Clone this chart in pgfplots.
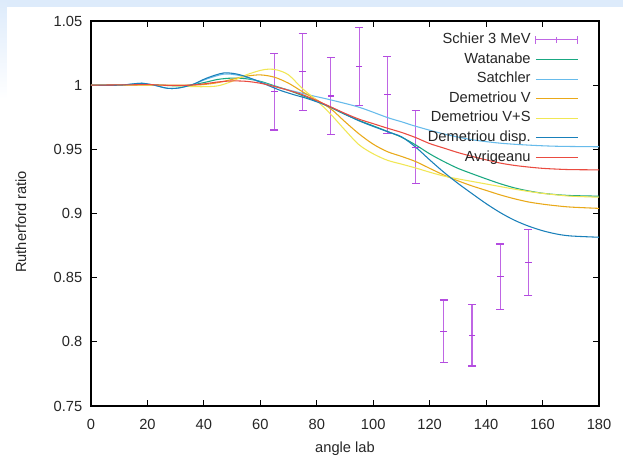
\documentclass[border=0pt]{standalone}
\usepackage{fontspec}
\setmainfont{Liberation Sans}
\usepackage{pgfplots}
\pgfplotsset{compat=1.18}

% gnuplot default line colours
\definecolor{gpviolet}{RGB}{148,0,211}
\definecolor{gpgreen}{RGB}{0,158,115}
\definecolor{gpsky}{RGB}{86,180,233}
\definecolor{gporange}{RGB}{230,159,0}
\definecolor{gpyellow}{RGB}{240,228,66}
\definecolor{gpblue}{RGB}{0,114,178}
\definecolor{gpred}{RGB}{229,30,16}
\definecolor{framebg}{RGB}{221,235,251}

% measured Rutherford ratios: angle, ratio, error
\pgfplotstableread{
a    r      e
65   0.9949 0.0299
75   1.0105 0.0300
85   0.9916 0.0300
95   1.0146 0.0305
105  0.9926 0.0300
115  0.9516 0.0285
125  0.8083 0.0243
135  0.8051 0.0240
145  0.8508 0.0255
155  0.8620 0.0258
}\schier

\pgfplotstableread{
a   r
0   1.0000
15  1.0003
20  1.0005
25  1.0000
30  0.9995
35  1.0000
40  1.0020
45  1.0045
50  1.0055
55  1.0050
60  1.0030
65  0.9995
70  0.9960
75  0.9918
80  0.9875
85  0.9825
90  0.9772
95  0.9725
100 0.9683
105 0.9640
110 0.9595
115 0.9535
120 0.9465
125 0.9405
130 0.9352
135 0.9310
140 0.9270
145 0.9232
150 0.9200
155 0.9176
160 0.9158
165 0.9147
170 0.9140
180 0.9135
}\watanabe

\pgfplotstableread{
a   r
0   1.0000
10  1.0000
15  1.0010
18  1.0015
22  1.0002
27  0.9976
31  0.9978
36  1.0005
41  1.0048
47  1.0086
52  1.0078
57  1.0048
62  1.0010
67  0.9978
72  0.9952
77  0.9925
85  0.9885
95  0.9828
105 0.9748
110 0.9715
115 0.9680
125 0.9620
135 0.9575
145 0.9548
155 0.9533
165 0.9524
180 0.9520
}\satchler

\pgfplotstableread{
a   r
0   1.0000
20  1.0000
30  1.0000
35  1.0000
40  1.0005
45  1.0020
50  1.0045
55  1.0070
60  1.0080
65  1.0062
70  1.0015
75  0.9948
80  0.9885
85  0.9815
90  0.9715
95  0.9620
100 0.9540
105 0.9482
110 0.9445
115 0.9405
120 0.9352
125 0.9300
130 0.9255
135 0.9215
140 0.9180
145 0.9145
150 0.9115
155 0.9090
160 0.9073
165 0.9060
170 0.9050
180 0.9040
}\demV

\pgfplotstableread{
a   r
0   1.0000
20  1.0000
30  0.9995
35  0.9990
40  0.9988
45  0.9995
50  1.0030
55  1.0080
60  1.0115
63  1.0125
66  1.0118
70  1.0080
75  0.9972
80  0.9880
85  0.9772
90  0.9650
95  0.9535
100 0.9465
105 0.9415
110 0.9385
115 0.9355
120 0.9322
125 0.9292
130 0.9270
135 0.9250
140 0.9230
145 0.9210
150 0.9190
155 0.9172
160 0.9157
165 0.9145
170 0.9135
180 0.9127
}\demVS

\pgfplotstableread{
a   r
0   1.0000
10  1.0000
15  1.0010
18  1.0015
22  1.0002
27  0.9976
31  0.9978
36  1.0005
41  1.0055
47  1.0095
52  1.0085
57  1.0050
62  1.0005
67  0.9960
72  0.9925
77  0.9893
85  0.9828
95  0.9722
105 0.9638
110 0.9598
115 0.9518
120 0.9418
125 0.9322
130 0.9235
135 0.9155
140 0.9077
145 0.9007
150 0.8948
155 0.8902
160 0.8866
165 0.8840
170 0.8825
180 0.8815
}\demdisp

\pgfplotstableread{
a   r
0   1.0000
15  1.0003
20  1.0005
25  1.0000
30  0.9998
35  1.0000
40  1.0010
45  1.0025
50  1.0033
55  1.0030
60  1.0015
65  0.9990
70  0.9960
75  0.9925
80  0.9880
85  0.9830
90  0.9780
95  0.9735
100 0.9700
105 0.9665
110 0.9632
115 0.9592
120 0.9545
125 0.9510
130 0.9475
135 0.9445
140 0.9418
145 0.9393
150 0.9375
155 0.9362
160 0.9352
165 0.9346
170 0.9342
180 0.9340
}\avrigeanu

\begin{document}
\begin{tikzpicture}
% page frame with a pale blue edge along the top and left
\path[use as bounding box] (-68.25pt,-41.25pt) rectangle (399pt,304.5pt);
\fill[white] (-68.25pt,-41.25pt) rectangle (399pt,304.5pt);
\fill[framebg] (-68.25pt,299.25pt) rectangle (399pt,304.5pt);
\shade[top color=framebg, bottom color=white] (-68.25pt,230pt) rectangle (-63pt,304.5pt);
\begin{axis}[
  scale only axis,
  width=381pt, height=288.75pt,
  xmin=0, xmax=180, ymin=0.75, ymax=1.05,
  xtick={0,20,...,180},
  ytick={0.75,0.8,0.85,0.9,0.95,1,1.05},
  tick align=inside,
  major tick length=4.5pt,
  every tick/.style={black, line width=0.6pt},
  axis line style={black, line width=0.8pt},
  tick label style={font=\fontsize{11}{13}\selectfont, text=black!85,
    /pgf/number format/assume math mode=true},
  yticklabel style={xshift=-3pt},
  xticklabel style={yshift=-6.5pt},
  label style={font=\fontsize{11}{13}\selectfont, text=black!85},
  xlabel={angle lab},
  ylabel={Rutherford ratio},
  xlabel style={at={(axis description cs:0.5,-0.122)}, anchor=base},
  ylabel style={at={(axis description cs:-0.138,0.478)}, anchor=center},
  legend plot pos=right,
  legend cell align=right,
  legend style={draw=none, fill=none,
    at={(axis description cs:0.968,0.982)}, anchor=north east,
    font=\fontsize{11}{13}\selectfont, text=black!85,
    row sep=1.2pt, column sep=2pt,
    nodes={inner sep=1.5pt, text height=8pt, text depth=2.5pt}},
  legend image code/.code={\draw[#1] (0pt,0pt) -- (31.5pt,0pt);},
  every axis plot/.append style={line width=0.8pt},
]
\addplot[gpviolet!60, only marks, mark=-, mark size=2.5pt,
  mark options={gpviolet!75, line width=0.9pt},
  legend image code/.code={
    \draw[gpviolet!60, line width=0.9pt]
      (0pt,0pt) -- (31.5pt,0pt)
      (0pt,-3pt) -- (0pt,3pt)
      (15.75pt,-2pt) -- (15.75pt,2pt)
      (31.5pt,-3pt) -- (31.5pt,3pt);},
  error bars/.cd, y dir=both, y explicit,
  error mark=|,
  error bar style={gpviolet!60, line width=0.9pt},
  error mark options={gpviolet!70, mark size=3pt, line width=0.9pt}]
  table[x=a, y=r, y error=e] {\schier};
\addlegendentry{Schier 3 MeV}
\addplot[gpgreen!90!white, smooth] table[x=a, y=r] {\watanabe};
\addlegendentry{Watanabe}
\addplot[gpsky!90!white, smooth] table[x=a, y=r] {\satchler};
\addlegendentry{Satchler}
\addplot[gporange!90!white, smooth] table[x=a, y=r] {\demV};
\addlegendentry{Demetriou V}
\addplot[gpyellow!90!white, smooth] table[x=a, y=r] {\demVS};
\addlegendentry{Demetriou V+S}
\addplot[gpblue!90!white, smooth] table[x=a, y=r] {\demdisp};
\addlegendentry{Demetriou disp.}
\addplot[gpred!80!white, smooth] table[x=a, y=r] {\avrigeanu};
\addlegendentry{Avrigeanu}
\end{axis}
\end{tikzpicture}
\end{document}
